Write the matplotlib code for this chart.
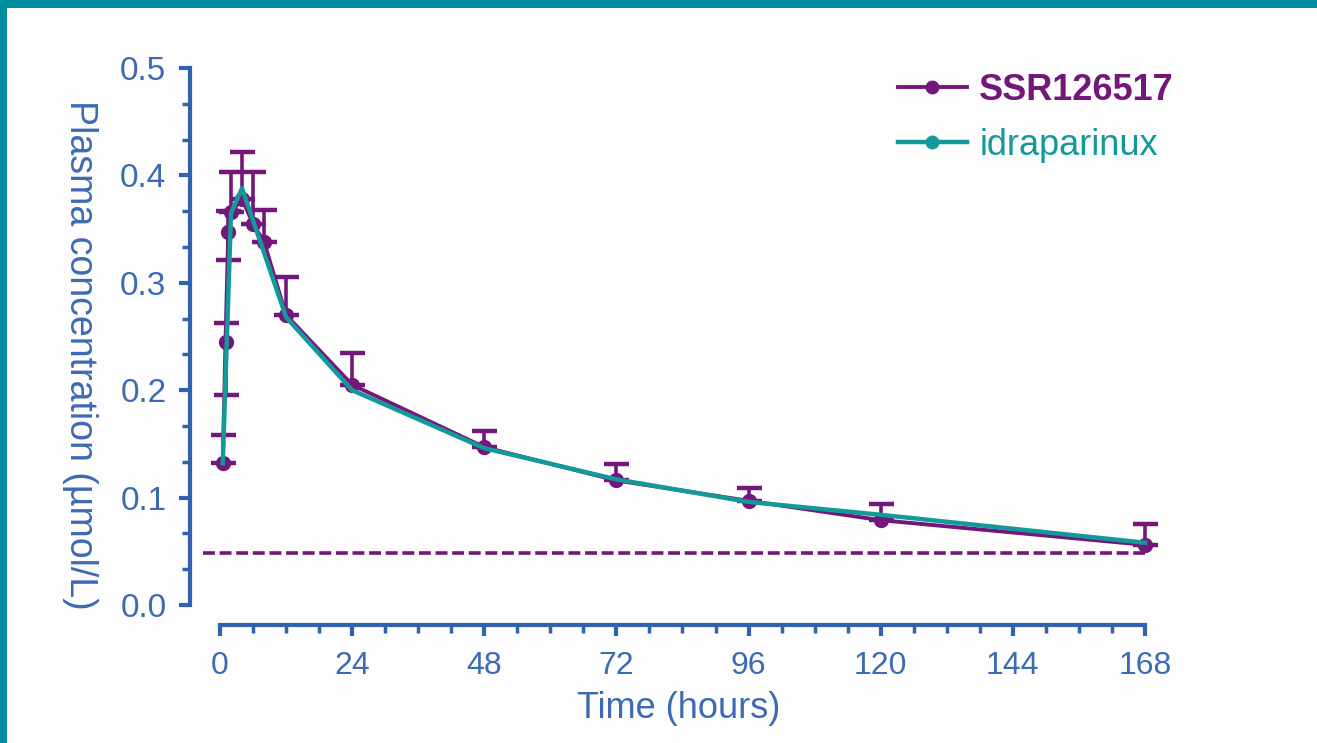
import matplotlib
matplotlib.use("Agg")
import matplotlib.pyplot as plt
from matplotlib.patches import Rectangle
from matplotlib.ticker import MultipleLocator
from matplotlib.lines import Line2D

plt.rcParams['font.family'] = ['Liberation Sans', 'DejaVu Sans']

# ---- data ----
ssr_time = [0.5, 1, 1.5, 2, 4, 6, 8, 12, 24, 48, 72, 96, 120, 168]
ssr_conc = [0.132, 0.245, 0.347, 0.366, 0.378, 0.355, 0.338, 0.270, 0.205, 0.147, 0.116, 0.097, 0.079, 0.056]
ssr_err_lo = [0.0, 0.049, 0.026, 0.0, 0.0, 0.0, 0.0, 0.0, 0.0, 0.0, 0.0, 0.0, 0.0, 0.0]
ssr_err_hi = [0.026, 0.018, 0.020, 0.037, 0.044, 0.048, 0.030, 0.035, 0.030, 0.015, 0.015, 0.012, 0.015, 0.019]

idra_time = [0.5, 2, 4, 12, 24, 48, 72, 96, 120, 168]
idra_conc = [0.132, 0.365, 0.388, 0.268, 0.200, 0.146, 0.117, 0.096, 0.084, 0.058]

lloq_time = [-3, 168]
lloq_conc = [0.048, 0.048]

x_ticks = [0, 24, 48, 72, 96, 120, 144, 168]
y_ticks = [0.0, 0.1, 0.2, 0.3, 0.4, 0.5]
series_names = ["SSR126517", "idraparinux"]
x_label = "Time (hours)"
y_label = "Plasma concentration (µmol/L)"

# ---- style ----
PURPLE = "#74177A"
TEAL = "#14999A"
BLUE = "#2F63B0"
TXT = "#3D6BB3"
BORDER = "#008E9E"

fig = plt.figure(figsize=(13.17, 7.43), dpi=100, facecolor="#FDFDFD")
fig.patches.append(Rectangle((0, 1 - 8 / 743), 1, 8 / 743, transform=fig.transFigure,
                             facecolor=BORDER, edgecolor="none", zorder=0))
fig.patches.append(Rectangle((0, 0), 7 / 1317, 1, transform=fig.transFigure,
                             facecolor=BORDER, edgecolor="none", zorder=0))

ax = fig.add_axes([190 / 1317, 118 / 743, (1167 - 190) / 1317, (625 - 46.5) / 743])
ax.set_facecolor("none")
ax.set_xlim(-5.45, 172)
ax.set_ylim(-0.0186, 0.52)

# dashed LLOQ line
ax.plot(lloq_time, lloq_conc, color=PURPLE, lw=2.6, ls=(0, (3.3, 1.3)), zorder=2)

# SSR126517 with error bars
ax.errorbar(ssr_time, ssr_conc, yerr=[ssr_err_lo, ssr_err_hi], color=PURPLE, lw=2.8,
            marker="o", ms=10, capsize=9, capthick=3.2, elinewidth=2.6, zorder=3)
# idraparinux
ax.plot(idra_time, idra_conc, color=TEAL, lw=3.2, zorder=4)

# axes styling
for s in ["top", "right"]:
    ax.spines[s].set_visible(False)
ax.spines["left"].set_bounds(0, 0.5)
ax.spines["bottom"].set_bounds(0, 168)
for s in ["left", "bottom"]:
    ax.spines[s].set_color(BLUE)
    ax.spines[s].set_linewidth(3)

ax.set_xticks(x_ticks)
ax.set_xticklabels([str(v) for v in x_ticks])
ax.xaxis.set_minor_locator(MultipleLocator(6))
ax.set_yticks(y_ticks)
ax.set_yticklabels([f"{v:.1f}" for v in y_ticks])
ax.yaxis.set_minor_locator(MultipleLocator(0.1 / 3))

ax.tick_params(axis="both", which="major", direction="out", length=8, width=3,
               color=BLUE, labelcolor=TXT)
ax.tick_params(axis="x", which="major", labelsize=23, pad=11)
ax.tick_params(axis="y", which="major", labelsize=24, pad=9)
ax.tick_params(axis="both", which="minor", direction="out", length=6, width=2.5, color=BLUE)

ax.set_xlabel(x_label, fontsize=26, color=TXT, labelpad=7)
ax.set_ylabel(y_label, fontsize=27, color=TXT, rotation=270, va="center")
ax.yaxis.set_label_coords(-0.113, 0.467)

handles = [
    Line2D([0], [0], color=PURPLE, lw=2.8, marker="o", ms=9),
    Line2D([0], [0], color=TEAL, lw=3.2, marker="o", ms=9),
]
leg = ax.legend(handles, series_names, loc="upper left", bbox_to_anchor=(898 / 1317, 1 - 73 / 743),
                bbox_transform=fig.transFigure, frameon=False, fontsize=26,
                handlelength=1.9, handletextpad=0.35, labelspacing=0.55, borderaxespad=0,
                borderpad=0)
leg.get_texts()[0].set_color(PURPLE)
leg.get_texts()[0].set_fontweight("bold")
leg.get_texts()[1].set_color(TEAL)

fig.savefig("out.png", dpi=100, facecolor=fig.get_facecolor())
